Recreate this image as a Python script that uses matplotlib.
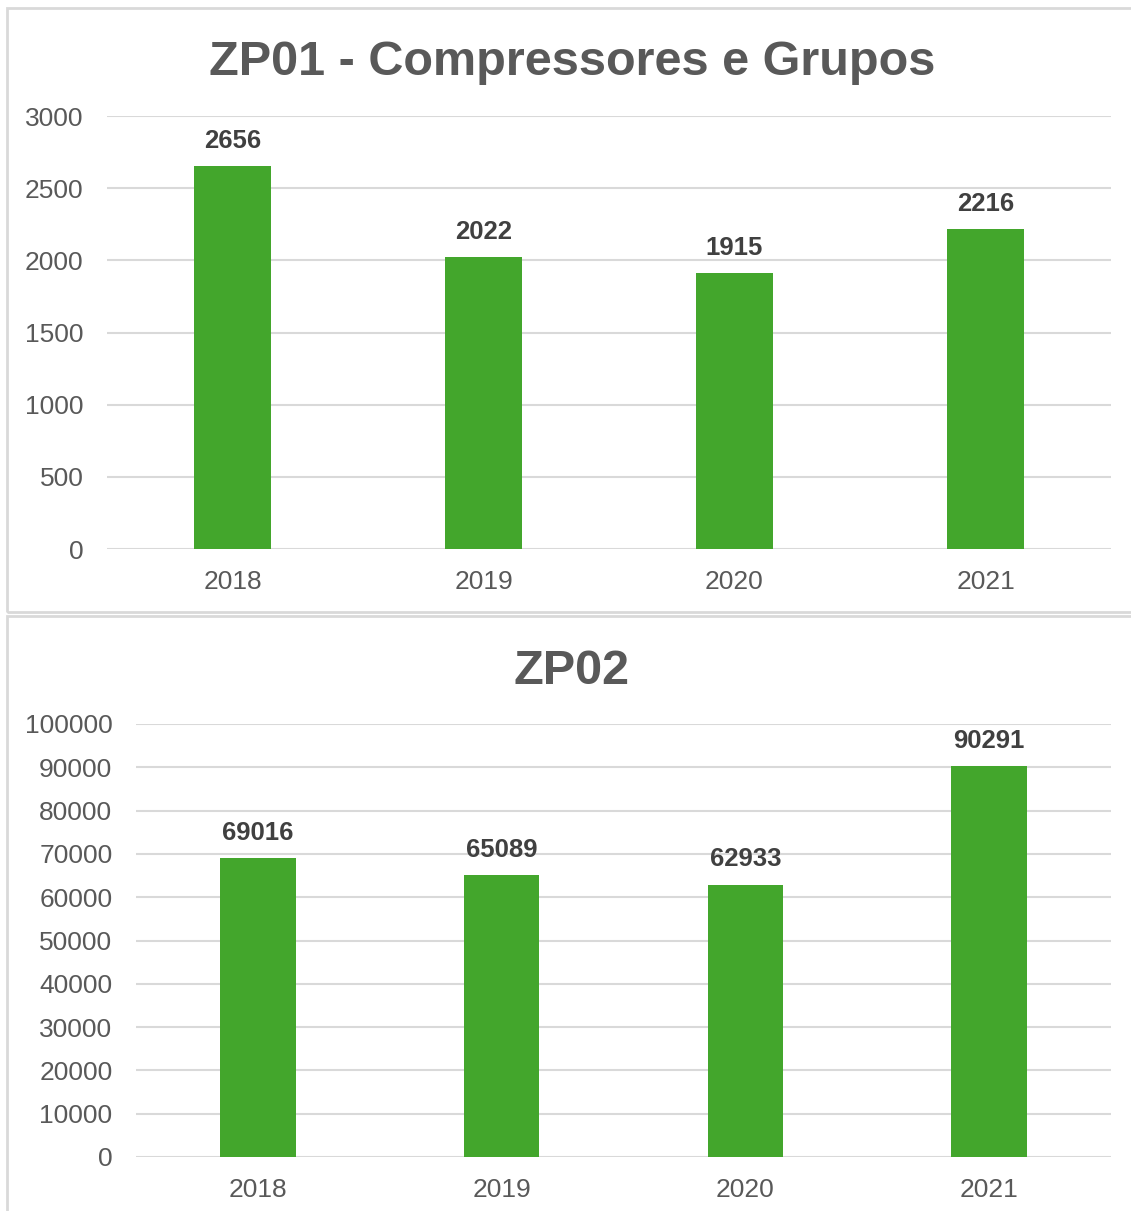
import matplotlib.pyplot as plt
from matplotlib.patches import Rectangle

plt.rcParams['font.family'] = ['Liberation Sans', 'DejaVu Sans']

years = ['2018', '2019', '2020', '2021']
zp01 = [2656, 2022, 1915, 2216]
zp02 = [69016, 65089, 62933, 90291]

W, H = 1131, 1211
GREEN = '#43A62C'
GRID = '#D9D9D9'
TXT = '#595959'
LBL = '#404040'

fig = plt.figure(figsize=(W / 100, H / 100), dpi=100)


def px_axes(x0, y_top, x1, y_bot):
    return fig.add_axes([x0 / W, 1 - y_bot / H, (x1 - x0) / W, (y_bot - y_top) / H])


def draw(ax, vals, ymax, step):
    x = range(len(vals))
    ax.bar(x, vals, width=0.31, color=GREEN, zorder=3)
    for i, v in zip(x, vals):
        ax.annotate(str(v), (i, v), xytext=(0, 13), textcoords='offset points',
                    ha='center', va='baseline', fontsize=18.5, fontweight='bold', color=LBL)
    ax.set_xlim(-0.5, len(vals) - 0.5)
    ax.set_ylim(0, ymax)
    ax.set_yticks(range(0, ymax + 1, step))
    ax.set_xticks(list(x))
    ax.set_xticklabels(years)
    ax.tick_params(axis='both', length=0, labelsize=19, colors=TXT)
    ax.tick_params(axis='y', pad=17)
    ax.tick_params(axis='x', pad=15)
    ax.grid(axis='y', color=GRID, linewidth=1.5, zorder=0)
    for s in ax.spines.values():
        s.set_visible(False)
    ax.set_facecolor('none')


# panel frames
fig.patches.append(Rectangle((7 / W, 1 - 612 / H), 1130 / W, 604 / H, transform=fig.transFigure,
                             fill=False, edgecolor=GRID, linewidth=2))
fig.patches.append(Rectangle((7 / W, 1 - 1215 / H), 1130 / W, 599 / H, transform=fig.transFigure,
                             fill=False, edgecolor=GRID, linewidth=2))

ax1 = px_axes(107, 116, 1111, 549)
draw(ax1, zp01, 3000, 500)
ax2 = px_axes(136, 724, 1111, 1157)
draw(ax2, zp02, 100000, 10000)

fig.text(572 / W, 1 - 75 / H, 'ZP01 - Compressores e Grupos', ha='center', va='baseline',
         fontsize=35, fontweight='bold', color=TXT)
fig.text(572 / W, 1 - 684 / H, 'ZP02', ha='center', va='baseline',
         fontsize=35, fontweight='bold', color=TXT)

fig.savefig('out.png', dpi=100)
